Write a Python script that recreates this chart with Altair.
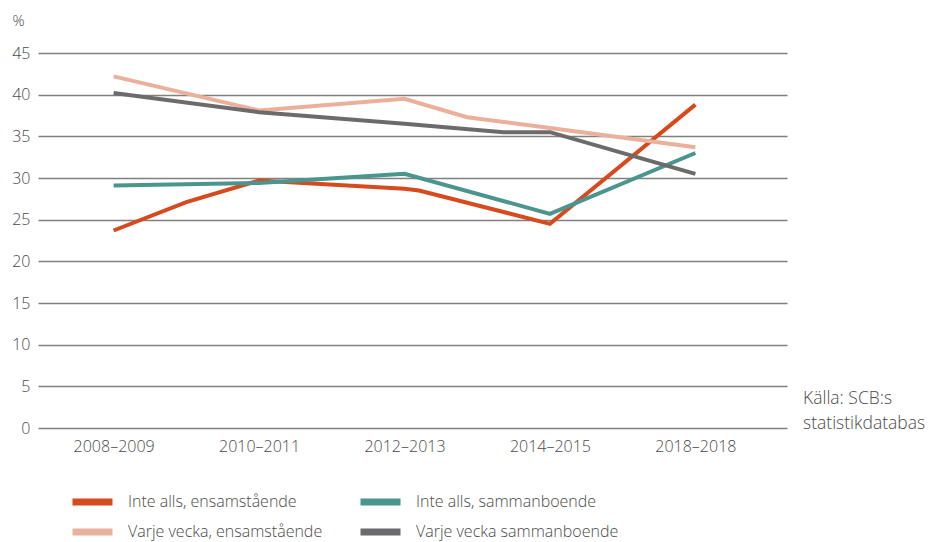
import altair as alt
import pandas as pd

categories = ["2008–2009", "2010–2011", "2012–2013", "2014–2015", "2018–2018"]
series_names = [
    "Inte alls, ensamstående",
    "Varje vecka, ensamstående",
    "Inte alls, sammanboende",
    "Varje vecka sammanboende",
]
colors = ["#d64a1e", "#ebb09c", "#4a968e", "#6b6b6e"]

# positions along the category axis (0 = first period) and values in %
red_x = [0, 0.5, 1, 2, 2.1, 3, 4]
red_y = [23.7, 27.1, 29.7, 28.7, 28.5, 24.5, 38.8]
pink_x = [0, 1, 2, 2.43, 3, 4]
pink_y = [42.2, 38.1, 39.5, 37.3, 36.0, 33.7]
teal_x = [0, 1, 2, 3, 4]
teal_y = [29.1, 29.4, 30.5, 25.7, 33.0]
gray_x = [0, 1, 2, 2.68, 3, 4]
gray_y = [40.2, 37.9, 36.5, 35.5, 35.5, 30.5]

rows = []
for name, xs, ys in zip(series_names, [red_x, pink_x, teal_x, gray_x], [red_y, pink_y, teal_y, gray_y]):
    for i, (x, y) in enumerate(zip(xs, ys)):
        rows.append({"serie": name, "pos": x, "value": y, "order": i})
df = pd.DataFrame(rows)

label_expr = "[" + ",".join(f"'{c}'" for c in categories) + "][datum.value]"

FONT = "Open Sans"
TXT = "#4a4a4a"

lines = alt.Chart(df).mark_line(strokeWidth=4, strokeJoin="miter", strokeCap="butt").encode(
    x=alt.X("pos:Q",
            scale=alt.Scale(domain=[-0.52, 4.63], nice=False, zero=False),
            axis=alt.Axis(values=[0, 1, 2, 3, 4], labelExpr=label_expr, title=None,
                          grid=False, domain=False, ticks=False, labelPadding=10,
                          labelFontSize=16, labelColor=TXT, labelFont=FONT, labelFontWeight=300)),
    y=alt.Y("value:Q",
            scale=alt.Scale(domain=[0, 45], nice=False),
            axis=alt.Axis(values=[0, 5, 10, 15, 20, 25, 30, 35, 40, 45], title="%",
                          titleAngle=0, titleX=-26, titleY=-33, titleAlign="left",
                          titleBaseline="middle", titleFontSize=15, titleFontWeight=300,
                          titleColor=TXT, titleFont=FONT,
                          grid=True, gridColor="#808080", gridWidth=1.5,
                          domain=False, ticks=False, labelPadding=8,
                          labelFontSize=16, labelColor=TXT, labelFont=FONT, labelFontWeight=300)),
    color=alt.Color("serie:N",
                    scale=alt.Scale(domain=series_names, range=colors),
                    legend=alt.Legend(title=None, orient="none", legendX=31, legendY=440,
                                      columns=2, symbolType="stroke", symbolSize=1600,
                                      symbolStrokeWidth=7, labelOffset=12, columnPadding=34,
                                      rowPadding=12, clipHeight=18, labelFontSize=16, labelColor=TXT,
                                      labelFont=FONT, labelFontWeight=300, labelLimit=320)),
    order="order:Q",
)

source = alt.Chart(pd.DataFrame({"t": [["Källa: SCB:s", "statistikdatabas"]]})).mark_text(
    align="left", baseline="middle", fontSize=17.5, fontWeight=300, color=TXT, font=FONT, lineHeight=25
).encode(text="t", x=alt.value(765), y=alt.value(346))

chart = alt.layer(lines, source).properties(
    width=749, height=375,
    padding={"left": 30, "top": 45, "right": 141, "bottom": 118},
    autosize=alt.AutoSizeParams(type="none"),
).configure_view(stroke=None)

chart.save("out.html", embed_options={"renderer": "svg", "actions": False})
